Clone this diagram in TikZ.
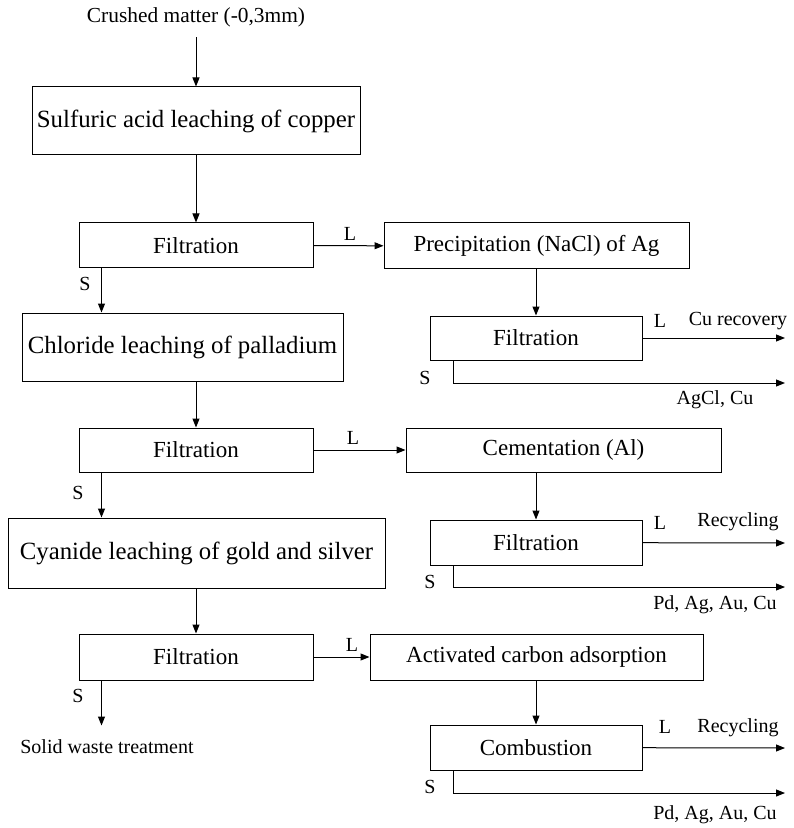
\documentclass[tikz,border=0pt]{standalone}
\usepackage{fontspec}
\setmainfont{Liberation Serif}
\usetikzlibrary{arrows.meta}

\begin{document}
\begin{tikzpicture}[x=0.5pt, y=-0.5pt,
    box/.style={draw, rectangle, inner sep=0pt, line width=0.5pt, font=\fontsize{11.5}{13}\selectfont},
    bigbox/.style={box, font=\fontsize{12.4}{14}\selectfont},
    flow/.style={-{Triangle[length=4.5pt, width=3.5pt]}, line width=0.5pt},
    lbl/.style={inner sep=0pt, font=\fontsize{10}{12}\selectfont}]
        \useasboundingbox (0,0) rectangle (793,828);

        % left column
        \node[lbl, font=\fontsize{10.7}{12}\selectfont] (crushed) at (196,17) {Crushed matter (-0,3mm)};
        \node[bigbox, minimum width=164pt, minimum height=34pt] (sulf) at (196,121) {Sulfuric acid leaching of copper};
        \node[box, minimum width=117pt, minimum height=22.5pt] (filtA) at (196,245.5) {Filtration};
        \node[bigbox, minimum width=160.5pt, minimum height=34pt] (chlor) at (182.5,347) {Chloride leaching of palladium};
        \node[box, minimum width=117pt, minimum height=22pt] (filtC) at (196,450) {Filtration};
        \node[bigbox, minimum width=188.5pt, minimum height=35pt] (cyan) at (196.5,553) {Cyanide leaching of gold and silver};
        \node[box, minimum width=117pt, minimum height=23pt] (filtE) at (196,657) {Filtration};
        \node[lbl] (waste) at (107,747) {Solid waste treatment};

        % right column
        \node[box, minimum width=152.5pt, minimum height=23pt] (precip) at (536.5,246) {Precipitation (NaCl) of Ag};
        \node[box, minimum width=106pt, minimum height=22pt] (filtB) at (536,338) {Filtration};
        \node[box, minimum width=157.5pt, minimum height=22pt] (cement) at (563.5,450) {Cementation (Al)};
        \node[box, minimum width=106pt, minimum height=22.5pt] (filtD) at (536,542.5) {Filtration};
        \node[box, minimum width=166.5pt, minimum height=23pt] (carbon) at (536.5,657) {Activated carbon adsorption};
        \node[box, minimum width=106pt, minimum height=22.5pt] (comb) at (536,747.5) {Combustion};

        % free ends
        \coordinate (endBL) at (785,338);
        \coordinate (endBS) at (785,383);
        \coordinate (endDL) at (785,543);
        \coordinate (endDS) at (785,587);
        \coordinate (endCL) at (785,748);
        \coordinate (endCS) at (785,793);

        % main flow
        \draw[flow, shorten <=5pt] (crushed) -- (sulf);
        \draw[flow] (sulf) -- (filtA);
        \draw[flow] ([xshift=11.5pt]filtA.south west) -- ([xshift=11.5pt]filtA.south west |- chlor.north);
        \draw[flow] (chlor.south -| filtA.north) -- (filtC);
        \draw[flow] ([xshift=11.5pt]filtC.south west) -- ([xshift=11.5pt]filtC.south west |- cyan.north);
        \draw[flow] (cyan.south -| filtE.north) -- (filtE);
        \draw[flow] ([xshift=11.5pt]filtE.south west) -- ++(0,45) coordinate (wasteend);

        % liquid branches
        \draw[flow] (filtA) -- (precip);
        \draw[flow] (filtC) -- (cement);
        \draw[flow] (filtE) -- (carbon);
        \draw[flow] (precip.south -| filtB.north) -- (filtB);
        \draw[flow] (cement.south -| filtD.north) -- (filtD);
        \draw[flow] (carbon.south -| comb.north) -- (comb);

        % outputs
        \draw[flow] (filtB) -- (endBL);
        \draw[flow] ([xshift=12pt]filtB.south west) |- (endBS);
        \draw[flow] (filtD) -- (endDL);
        \draw[flow] ([xshift=12pt]filtD.south west) |- (endDS);
        \draw[flow] (comb) -- (endCL);
        \draw[flow] ([xshift=12pt]comb.south west) |- (endCS);

        % labels
        \node[lbl] (sA) at (85,284) {S};
        \node[lbl] (lA) at (350,234) {L};
        \node[lbl] (sC) at (78,493) {S};
        \node[lbl] (lC) at (353,438) {L};
        \node[lbl] (sE) at (78,696) {S};
        \node[lbl] (lE) at (352,645) {L};

        \node[lbl] (lB) at (660,321) {L};
        \node[lbl] (cuB) at (738,321) {Cu recovery};
        \node[lbl] (sB) at (425,378) {S};
        \node[lbl] (agB) at (715,400) {AgCl, Cu};

        \node[lbl] (lD) at (660,523) {L};
        \node[lbl] (recD) at (738,522) {Recycling};
        \node[lbl] (sD) at (430,582) {S};
        \node[lbl] (pdD) at (715,605) {Pd, Ag, Au, Cu};

        \node[lbl] (lF) at (665,727) {L};
        \node[lbl] (recF) at (738,728) {Recycling};
        \node[lbl] (sF) at (430,787) {S};
        \node[lbl] (pdF) at (715,815) {Pd, Ag, Au, Cu};
    \end{tikzpicture}
\end{document}
